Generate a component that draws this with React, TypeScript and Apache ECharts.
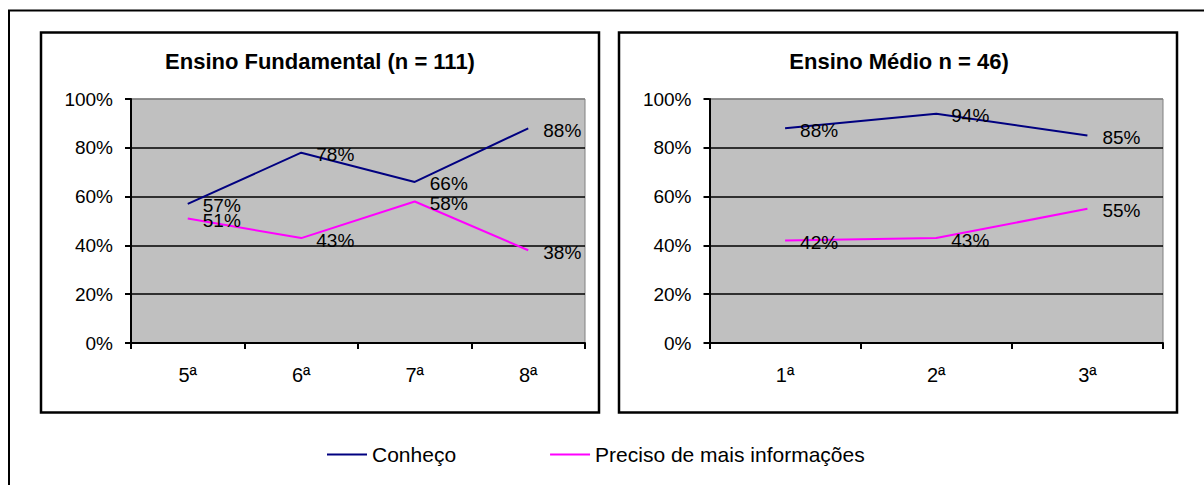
import React, { useEffect, useRef } from 'react';
import * as echarts from 'echarts';

const fundCategories = ['5ª', '6ª', '7ª', '8ª'];
const fundConheco = [57, 78, 66, 88];
const fundPreciso = [51, 43, 58, 38];

const medioCategories = ['1ª', '2ª', '3ª'];
const medioConheco = [88, 94, 85];
const medioPreciso = [42, 43, 55];

const seriesNames = ['Conheço', 'Preciso de mais informações'];
const seriesColors = ['#000080', '#FF00FF'];
const panelTitles = ['Ensino Fundamental (n = 111)', 'Ensino Médio n = 46)'];

const yMin = 0;
const yMax = 100;
const yStep = 20;

const FONT = "'Liberation Sans', Arial, Helvetica, sans-serif";

function makeYAxis(gridIndex: number) {
  return {
    type: 'value',
    gridIndex,
    min: yMin,
    max: yMax,
    interval: yStep,
    axisLine: { show: true, lineStyle: { color: '#000', width: 2 } },
    axisTick: { show: true, inside: false, length: 6, lineStyle: { color: '#000', width: 2 } },
    axisLabel: {
      formatter: '{value}%',
      margin: 18,
      fontSize: 19,
      color: '#000',
      fontFamily: FONT,
    },
    splitLine: {
      show: true,
      lineStyle: {
        color: ['#000', '#000', '#000', '#000', '#000', '#808080'],
        width: 1.5,
      },
    },
  };
}

function makeXAxis(gridIndex: number, data: string[]) {
  return {
    type: 'category',
    gridIndex,
    data,
    boundaryGap: true,
    axisLine: { show: true, lineStyle: { color: '#000', width: 2 } },
    axisTick: { show: true, inside: false, length: 6, alignWithLabel: false, lineStyle: { color: '#000', width: 2 } },
    axisLabel: {
      margin: 22,
      fontSize: 20,
      color: '#000',
      fontFamily: FONT,
    },
    splitLine: { show: false },
  };
}

function makeSeries(name: string, color: string, data: number[], idx: number) {
  return {
    name,
    type: 'line',
    xAxisIndex: idx,
    yAxisIndex: idx,
    data,
    symbol: 'circle',
    symbolSize: 0.01,
    showSymbol: true,
    lineStyle: { color, width: 2 },
    itemStyle: { color },
    label: {
      show: true,
      position: 'right',
      distance: 15,
      offset: [0, 2],
      formatter: '{c}%',
      fontSize: 19,
      color: '#000',
      fontFamily: FONT,
    },
    z: 3,
  };
}

export default function App() {
  const ref = useRef<HTMLDivElement>(null);

  useEffect(() => {
    if (!ref.current) return;
    const chart = echarts.init(ref.current, undefined, { renderer: 'svg' });
    const option: any = {
      animation: false,
      backgroundColor: '#fff',
      title: [
        {
          text: panelTitles[0],
          left: 320,
          top: 50,
          textAlign: 'center',
          padding: 0,
          textStyle: { fontSize: 22, fontWeight: 'bold', color: '#000', fontFamily: FONT },
        },
        {
          text: panelTitles[1],
          left: 899,
          top: 50,
          textAlign: 'center',
          padding: 0,
          textStyle: { fontSize: 22, fontWeight: 'bold', color: '#000', fontFamily: FONT },
        },
      ],
      legend: {
        data: seriesNames.map((n) => ({ name: n, icon: 'rect' })),
        left: 327,
        top: 444,
        padding: 0,
        itemWidth: 40,
        itemHeight: 2,
        itemGap: 94,
        textStyle: { fontSize: 21, color: '#000', fontFamily: FONT },
      },
      grid: [
        {
          left: 131,
          top: 99,
          width: 454,
          height: 244,
          show: true,
          backgroundColor: '#C0C0C0',
          borderColor: '#808080',
          borderWidth: 1,
          containLabel: false,
        },
        {
          left: 709.5,
          top: 99,
          width: 453.5,
          height: 244,
          show: true,
          backgroundColor: '#C0C0C0',
          borderColor: '#808080',
          borderWidth: 1,
          containLabel: false,
        },
      ],
      xAxis: [makeXAxis(0, fundCategories), makeXAxis(1, medioCategories)],
      yAxis: [makeYAxis(0), makeYAxis(1)],
      series: [
        makeSeries(seriesNames[0], seriesColors[0], fundConheco, 0),
        makeSeries(seriesNames[1], seriesColors[1], fundPreciso, 0),
        makeSeries(seriesNames[0], seriesColors[0], medioConheco, 1),
        makeSeries(seriesNames[1], seriesColors[1], medioPreciso, 1),
      ],
      graphic: [
        {
          type: 'rect',
          shape: { x: 9, y: 10.5, width: 1300, height: 700 },
          style: { fill: 'transparent', stroke: '#000', lineWidth: 2 },
          z: -1,
          silent: true,
        },
        {
          type: 'rect',
          shape: { x: 41, y: 32.5, width: 558, height: 380 },
          style: { fill: 'transparent', stroke: '#000', lineWidth: 2.5 },
          z: -1,
          silent: true,
        },
        {
          type: 'rect',
          shape: { x: 619, y: 32.5, width: 558, height: 380 },
          style: { fill: 'transparent', stroke: '#000', lineWidth: 2.5 },
          z: -1,
          silent: true,
        },
      ],
    };
    chart.setOption(option);
    return () => {
      chart.dispose();
    };
  }, []);

  return (
    <div
      ref={ref}
      style={{ position: 'fixed', left: 0, top: 0, width: 1204, height: 485, background: '#fff' }}
    />
  );
}
